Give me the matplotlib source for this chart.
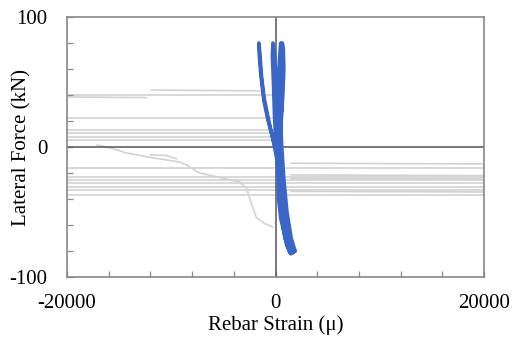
import matplotlib
matplotlib.use("Agg")
import matplotlib.pyplot as plt

# ---- data ----
# gray off-scale gauge traces: horizontal segments (x_start, x_end, force)
gray_levels_left = [40.0, 22.0, 13.0, 10.7, 7.7, 5.4]          # span -20000 .. ~0
gray_seg_a = ([-11900, -1500], [43.8, 43.2])                      # short upper segment
gray_seg_b = ([-20000, -12400], [38.5, 38.0])
gray_levels_full = [-16.0, -23.0, -25.4, -27.7, -30.8, -33.0, -37.0]
gray_levels_right = [-13.0, -22.0, -24.6, -34.6]                  # from ~1500 .. 20000
gray_curve_x = [-17100, -15500, -14300, -12000, -9200, -8500, -7300, -5000, -3450, -2780, -2300, -1820, -1000, -290]
gray_curve_y = [1.5, -1.5, -4.6, -8.0, -11.5, -14.0, -20.0, -24.0, -27.0, -31.5, -44.0, -54.6, -59.0, -61.5]
gray_curve2_x = [-12000, -10500, -9500]
gray_curve2_y = [-6.0, -6.5, -9.0]

# blue hysteresis loops (strain, force)
blue_x = [0, -300, -700, -1100, -1400, -1550, -1600, -1500, -1350, -1100, -700, -300, 100,
          400, 700, 1000, 1300, 1550, 1750, 1500, 1100, 800, 500, 250, 50,
          -100, -200, -300, -250, -100, 50, 150, 250, 350, 600, 900, 1200, 1450,
          1300, 900, 600, 400, 250, 200, 250, 400, 500, 600, 650, 600, 500, 400, 350,
          450, 650, 900, 1300, 1700, 1900, 1800, 1500, 1100, 800, 600, 450, 400,
          500, 650, 750, 800, 700, 550, 400, 250, 300, 500, 800, 1200, 1600, 1700]
blue_y = [0, 8, 20, 35, 55, 70, 80, 72, 55, 38, 22, 8, -8,
          -25, -42, -58, -70, -77, -81, -82, -76, -65, -45, -20, 0,
          25, 50, 70, 80, 72, 50, 30, 10, -10, -35, -55, -72, -82,
          -80, -70, -50, -25, 0, 25, 50, 70, 80, 74, 55, 35, 15, 0, -15,
          -35, -52, -65, -74, -79, -80, -78, -70, -50, -25, 0, 25, 50,
          70, 80, 76, 60, 40, 20, 0, -20, -40, -55, -65, -73, -78, -80]

x_ticks = [-20000, -16000, -12000, -8000, -4000, 0, 4000, 8000, 12000, 16000, 20000]
x_labels = ["-20000", "", "", "", "", "0", "", "", "", "", "20000"]
y_ticks = [-100, -80, -60, -40, -20, 0, 20, 40, 60, 80, 100]
y_labels = ["-100", "", "", "", "", "0", "", "", "", "", "100"]

plt.rcParams['font.family'] = ['Liberation Serif', 'DejaVu Serif']

fig = plt.figure(figsize=(5.13, 3.43), dpi=100)
ax = fig.add_axes([0.1306, 0.1924, 0.8129, 0.758])

gc = '#d2d2d2'
glw = 1.2
for lv in gray_levels_left:
    ax.plot([-20000, -200], [lv, lv], color=gc, lw=glw, zorder=1)
ax.plot(*gray_seg_a, color=gc, lw=glw, zorder=1)
ax.plot(*gray_seg_b, color=gc, lw=glw, zorder=1)
for lv in gray_levels_full:
    ax.plot([-20000, 20000], [lv, lv], color=gc, lw=glw, zorder=1)
for lv in gray_levels_right:
    ax.plot([1500, 20000], [lv + 0.5, lv], color=gc, lw=glw, zorder=1)
ax.plot(gray_curve_x, gray_curve_y, color=gc, lw=glw, zorder=1)
ax.plot(gray_curve2_x, gray_curve2_y, color=gc, lw=glw, zorder=1)

ax.axhline(0, color='#555555', lw=1.1, zorder=2)
ax.axvline(0, color='#555555', lw=1.1, zorder=2)

ax.plot(blue_x, blue_y, color='#3a66c8', lw=2.6, zorder=3, solid_joinstyle='round')

ax.set_xlim(-20000, 20000)
ax.set_ylim(-100, 100)
ax.set_xticks(x_ticks)
ax.set_xticklabels(x_labels)
ax.set_yticks(y_ticks)
ax.set_yticklabels(y_labels)
ax.tick_params(direction='in', length=4, width=0.9, color='#888888', labelsize=15)
ax.tick_params(axis='x', pad=12)
ax.tick_params(axis='y', pad=14)
for s in ax.spines.values():
    s.set_color('#888888')
    s.set_linewidth(1.2)

ax.set_xlabel('Rebar Strain (\u03bc)', fontsize=15)
ax.set_ylabel('Lateral Force (kN)', fontsize=15)
ax.xaxis.set_label_coords(0.5, -0.185)
ax.yaxis.set_label_coords(-0.108, 0.5)
ax.xaxis.label.set_va('center')
ax.yaxis.label.set_va('center')

fig.savefig('out.png', dpi=100)
